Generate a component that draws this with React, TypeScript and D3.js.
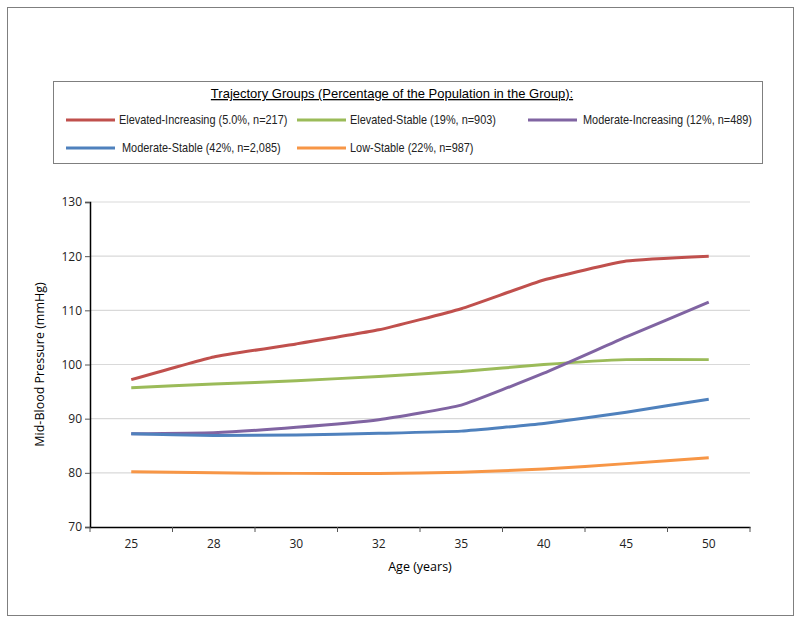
import { useEffect, useRef } from 'react';
import * as d3 from 'd3';

// Ages on the x-axis (categories)
const ages = ['25', '28', '30', '32', '35', '40', '45', '50'];

// Series values (mmHg)
const elevatedIncreasing = [97.2, 101.4, 103.8, 106.4, 110.3, 115.6, 119.1, 120.0];
const elevatedStable = [95.7, 96.4, 97.0, 97.8, 98.7, 100.0, 100.9, 100.9];
const moderateIncreasing = [87.2, 87.4, 88.4, 89.8, 92.5, 98.4, 105.1, 111.5];
const moderateStable = [87.2, 86.9, 87.0, 87.3, 87.7, 89.1, 91.2, 93.6];
const lowStable = [80.2, 80.0, 79.9, 79.9, 80.1, 80.7, 81.7, 82.8];

const seriesNames = [
  'Elevated-Increasing (5.0%, n=217)',
  'Elevated-Stable (19%, n=903)',
  'Moderate-Increasing (12%, n=489)',
  'Moderate-Stable (42%, n=2,085)',
  'Low-Stable (22%, n=987)',
];
const seriesColors = ['#C0504D', '#9BBB59', '#8064A2', '#4F81BD', '#F79646'];
const yTicks = [70, 80, 90, 100, 110, 120, 130];

const App = () => {
  const svgRef = useRef<SVGSVGElement | null>(null);

  useEffect(() => {
    const width = 800;
    const height = 623;
    const left = 90, right = 750, top = 202, bottom = 527;
    const font = '"Open Sans", "Liberation Sans", Arial, sans-serif';
    const narrow = '"Liberation Sans", Arial, sans-serif';

    const svg = d3.select(svgRef.current)
      .attr('width', width)
      .attr('height', height);
    svg.selectAll('*').remove();

    // outer frame
    svg.append('rect')
      .attr('x', 7.5).attr('y', 7.5)
      .attr('width', 786).attr('height', 608)
      .attr('fill', 'white').attr('stroke', '#7f7f7f');

    const x = d3.scaleBand().domain(ages).range([left, right]);
    const y = d3.scaleLinear().domain([70, 130]).range([bottom, top]);

    // gridlines
    svg.append('g')
      .selectAll('line')
      .data(yTicks.slice(1))
      .join('line')
      .attr('x1', left).attr('x2', right)
      .attr('y1', d => y(d)).attr('y2', d => y(d))
      .attr('stroke', '#d9d9d9').attr('stroke-width', 1.2);

    // y axis
    const gy = svg.append('g')
      .attr('transform', `translate(${left},0)`)
      .call(d3.axisLeft(y).tickValues(yTicks).tickSize(5).tickPadding(3));
    gy.select('.domain').attr('stroke', '#000').attr('stroke-width', 1.5);
    gy.selectAll('.tick line').attr('stroke', '#555');
    gy.selectAll('text').attr('font-family', font).attr('font-size', 12).attr('fill', '#222');

    // x axis
    const gx = svg.append('g')
      .attr('transform', `translate(0,${bottom})`)
      .call(d3.axisBottom(x).tickSize(0).tickPadding(12));
    gx.select('.domain').attr('stroke', '#000').attr('stroke-width', 1.5);
    gx.selectAll('text').attr('font-family', font).attr('font-size', 12).attr('fill', '#222');
    // tick marks between categories
    gx.append('g')
      .selectAll('line')
      .data(d3.range(ages.length + 1))
      .join('line')
      .attr('x1', i => left + i * x.bandwidth())
      .attr('x2', i => left + i * x.bandwidth())
      .attr('y1', 0).attr('y2', 5)
      .attr('stroke', '#555');

    // axis titles
    svg.append('text')
      .attr('x', (left + right) / 2).attr('y', 571)
      .attr('text-anchor', 'middle')
      .attr('font-family', font).attr('font-size', 12.5)
      .text('Age (years)');
    svg.append('text')
      .attr('transform', `translate(44,${(top + bottom) / 2}) rotate(-90)`)
      .attr('text-anchor', 'middle')
      .attr('font-family', font).attr('font-size', 12.5)
      .text('Mid-Blood Pressure (mmHg)');

    // lines (near-straight segments, like the original)
    const all = [elevatedIncreasing, elevatedStable, moderateIncreasing, moderateStable, lowStable];
    const line = d3.line<number>()
      .x((_, i) => (x(ages[i]) ?? 0) + x.bandwidth() / 2)
      .y(d => y(d))
      .curve(d3.curveCardinal.tension(0.6));
    svg.append('g')
      .selectAll('path')
      .data(all)
      .join('path')
      .attr('d', d => line(d))
      .attr('fill', 'none')
      .attr('stroke', (_, i) => seriesColors[i])
      .attr('stroke-width', 3)
      .attr('stroke-linejoin', 'round');

    // legend box
    svg.append('rect')
      .attr('x', 53.5).attr('y', 81.5)
      .attr('width', 709).attr('height', 82)
      .attr('fill', 'white').attr('stroke', '#7f7f7f');
    svg.append('text')
      .attr('x', 392).attr('y', 98)
      .attr('text-anchor', 'middle')
      .attr('font-family', narrow).attr('font-size', 13)
      .attr('text-decoration', 'underline')
      .text('Trajectory Groups (Percentage of the Population in the Group):');

    const legendPos = [
      { lx: 66, tx: 119, y: 120 },
      { lx: 297, tx: 350, y: 120 },
      { lx: 528, tx: 583, y: 120 },
      { lx: 66, tx: 122, y: 148 },
      { lx: 297, tx: 350, y: 148 },
    ];
    const lg = svg.append('g');
    seriesNames.forEach((name, i) => {
      const p = legendPos[i];
      lg.append('line')
        .attr('x1', p.lx).attr('x2', p.lx + 49)
        .attr('y1', p.y).attr('y2', p.y)
        .attr('stroke', seriesColors[i]).attr('stroke-width', 3);
      // narrow face is not available, so squeeze the text a little
      lg.append('text')
        .attr('transform', `translate(${p.tx},${p.y + 4}) scale(0.91,1)`)
        .attr('font-family', narrow).attr('font-size', 12)
        .attr('fill', '#222')
        .text(name);
    });
  }, []);

  return (
    <svg ref={svgRef} style={{ position: 'absolute', left: 0, top: 0 }}></svg>
  );
};

export default App;
